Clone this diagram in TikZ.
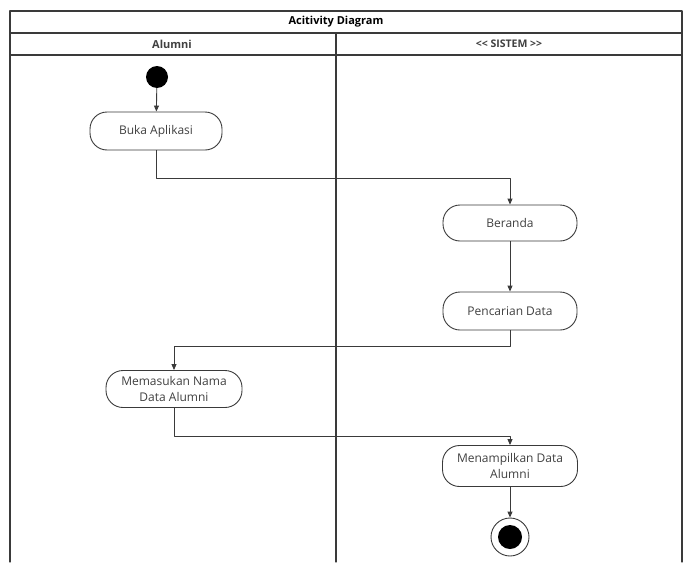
\documentclass[tikz,border=0pt]{standalone}
\usepackage{fontspec}
\setmainfont{Open Sans}
\usepackage{tikz}
\usetikzlibrary{arrows.meta,calc,positioning}
\definecolor{frame}{HTML}{3A3A3A}
\definecolor{label}{HTML}{404040}
\tikzset{
  Lane/.style={draw=frame, line width=1.2pt},
  Action/.style={
    draw=frame, line width=0.9pt, rounded corners=17pt,
    minimum width=134pt, minimum height=38pt, inner xsep=2pt,
    align=center, font=\fontsize{12}{16}\selectfont, text=label
  },
  Flow/.style={draw=frame, line width=0.9pt, -{Triangle[length=6pt,width=5pt]}}
}

\begin{document}
\begin{tikzpicture}[x=1pt, y=-1pt, line cap=round, line join=round]
  \useasboundingbox (0,0) rectangle (687,562);

  % swimlane frame
  \draw[Lane] (10,562) -- (10,11) -- (682,11) -- (682,562);
  \draw[Lane] (10,33) -- (682,33);
  \draw[Lane] (10,55) -- (682,55);
  \draw[Lane] (336,33) -- (336,562);

  \node[font=\bfseries\fontsize{11}{12}\selectfont] (title) at (336,22) {Acitivity Diagram};
  \node[font=\bfseries\fontsize{11}{12}\selectfont, text=label] (alumni) at (172,44) {Alumni};
  \node[font=\bfseries\fontsize{10.5}{12}\selectfont, text=label] (sistem) at (509,44) {<{}< SISTEM >{}>};

  % start and end
  \node[circle, fill=black, minimum size=22pt, inner sep=0pt] (start) at (157,77) {};
  \node[circle, draw=frame, line width=0.9pt, minimum size=38pt, inner sep=0pt] (stop) at (510,537) {};
  \node[circle, fill=black, minimum size=24pt, inner sep=0pt] (stopdot) at (510,537) {};

  % actions
  \node[Action, minimum width=132pt] (buka) at (156,131) {Buka Aplikasi};
  \node[Action, minimum height=36pt] (beranda) at (510,223) {Beranda};
  \node[Action] (cari) at (510,311) {Pencarian Data};
  \node[Action, minimum width=136pt, minimum height=37pt, inner ysep=1pt] (masuk) at (174,389) {Memasukan Nama\\Data Alumni};
  \node[Action, minimum width=135pt, minimum height=41pt, inner ysep=1pt] (tampil) at (510,466) {Menampilkan Data\\Alumni};

  % flows
  \draw[Flow] (start) -- (buka);
  \draw[Flow] (buka.south) -- ++(0,28) -| (beranda.north);
  \draw[Flow] (beranda) -- (cari);
  \draw[Flow] (cari.south) -- ++(0,16) -| (masuk.north);
  \draw[Flow] (masuk.south) -- ++(0,28) -| (tampil.north);
  \draw[Flow] (tampil) -- (stop);
\end{tikzpicture}
\end{document}
